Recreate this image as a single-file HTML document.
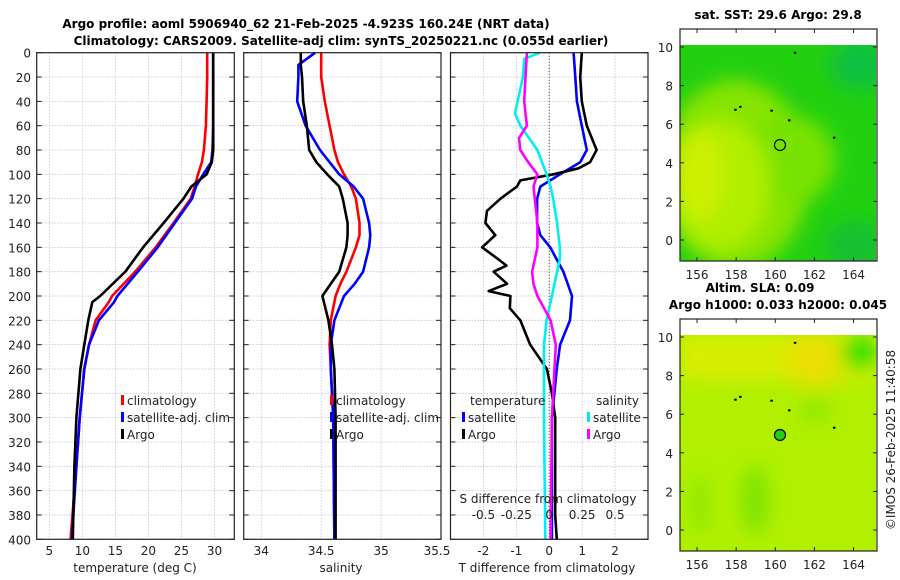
<!DOCTYPE html>
<html><head><meta charset="utf-8"><style>
body{margin:0;background:#fff}
svg{display:block;font-family:"DejaVu Sans","Liberation Sans",sans-serif}
.t{font-size:12px;fill:#222}
.b{font-size:12px;font-weight:bold;fill:#000}
</style></head><body>
<svg id="c" width="900" height="580" viewBox="0 0 900 580">
<defs>
<filter id="bl" x="-20%" y="-20%" width="140%" height="140%"><feGaussianBlur stdDeviation="9"/></filter>
<clipPath id="m1c"><rect x="680" y="45" width="196" height="216"/></clipPath>
<clipPath id="m2c"><rect x="680" y="335" width="196" height="216"/></clipPath>
</defs>
<text class="b" x="306" y="28" text-anchor="middle">Argo profile: aoml 5906940_62 21-Feb-2025 -4.923S 160.24E (NRT data)</text>
<text class="b" x="341" y="45" text-anchor="middle">Climatology: CARS2009. Satellite-adj clim: synTS_20250221.nc (0.055d earlier)</text>
<g id="g"></g>
</svg>
<script>
// ---- Data ----
const depthT = [0,20,40,60,80,90,100,110,120,140,160,180,200,205,220,240,260,300,340,400];
const tempClim = [28.9,28.9,28.8,28.7,28.4,28.1,27.5,27.0,26.4,23.8,21.1,18.0,14.5,14.0,12.0,11.0,10.3,9.6,9.1,8.2];
const tempSat = [29.8,29.8,29.8,29.8,29.7,29.5,28.3,27.2,26.6,24.0,21.4,18.4,15.3,14.8,12.5,11.0,10.3,9.6,9.1,8.4];
const tempArgo = [29.8,29.8,29.8,29.8,29.8,29.6,28.8,26.5,25.3,22.3,19.2,16.5,12.7,11.5,10.9,10.3,9.7,9.1,8.8,8.55];

const depthS = [0,10,20,40,60,80,90,100,110,120,140,150,160,180,190,200,220,240,260,300,400];
const salArgo = [34.33,34.33,34.34,34.35,34.38,34.40,34.46,34.55,34.65,34.68,34.72,34.72,34.71,34.65,34.58,34.51,34.56,34.59,34.61,34.62,34.62];
const salClim = [34.5,34.5,34.5,34.53,34.57,34.61,34.64,34.69,34.75,34.79,34.82,34.82,34.79,34.71,34.66,34.62,34.58,34.57,34.58,34.6,34.61];
const salSat = [34.45,34.31,34.31,34.3,34.37,34.49,34.57,34.65,34.77,34.85,34.9,34.91,34.9,34.85,34.78,34.69,34.61,34.58,34.58,34.6,34.61];

const depthDA = [0,20,40,60,80,90,95,100,105,110,120,130,140,150,160,170,175,180,190,196,200,210,220,240,260,280,300,340,380,400];
const tDiffArgo = [0.99,0.94,0.99,1.14,1.44,1.24,0.89,0.13,-0.88,-0.98,-1.48,-1.89,-1.94,-1.64,-2.04,-1.54,-1.3,-1.69,-1.28,-1.84,-1.18,-1.2,-0.88,-0.58,-0.07,0.08,0.18,0.18,0.18,0.23];
const depthDS = [0,20,40,60,80,90,100,110,120,140,150,160,180,200,220,240,260,300,400];
const tDiffSat = [0.74,0.79,0.84,0.99,1.14,0.94,0.33,-0.27,-0.37,-0.37,-0.27,0.03,0.43,0.69,0.63,0.33,0.23,0.08,0.08];
const depthSS = [0,5,20,40,50,60,80,100,110,120,140,160,170,180,200,220,240,260,300,400];
const sDiffSat = [-0.07,-0.19,-0.2,-0.24,-0.26,-0.22,-0.09,-0.02,0.01,0.03,0.06,0.08,0.08,0.06,0.02,-0.02,-0.04,-0.04,-0.04,-0.03];
const depthSA = [0,20,40,60,70,80,90,100,110,120,140,160,180,190,200,220,240,260,300,400];
const sDiffArgo = [-0.17,-0.18,-0.19,-0.17,-0.23,-0.22,-0.16,-0.09,-0.12,-0.11,-0.09,-0.09,-0.13,-0.12,-0.09,0.01,0.05,0.04,0.02,0.01];

const depthTicks = [0,20,40,60,80,100,120,140,160,180,200,220,240,260,280,300,320,340,360,380,400];
const tTicks = [5,10,15,20,25,30];
const sTicks = [34,34.5,35,35.5];
const tdTicks = [-2,-1,0,1,2];
const sdTicks = [-0.5,-0.25,0,0.25,0.5];
const lonTicks = [156,158,160,162,164];
const latTicks = [0,2,4,6,8,10];
const argoLon = 160.24, argoLat = -(-4.923);

// ---- helpers ----
const NS="http://www.w3.org/2000/svg";
const G=document.getElementById('g');
function el(tag,attrs,parent){const e=document.createElementNS(NS,tag);for(const k in attrs)e.setAttribute(k,attrs[k]);(parent||G).appendChild(e);return e;}
const Y0=52.7,Y1=539.3;
const yD=d=>Y0+(d/400)*(Y1-Y0);
function lin(d0,d1,r0,r1){return v=>r0+(v-d0)/(d1-d0)*(r1-r0);}

const panels=[
 {x0:36.7,x1:234.3,sc:lin(3.09,33.0,36.7,234.3),name:'temperature-panel'},
 {x0:243.7,x1:441,sc:lin(33.853,35.5,243.7,441),name:'salinity-panel'},
 {x0:450.5,x1:648,sc:lin(-3,3,450.5,648),name:'difference-panel'}
];
function frame(p,ticks){
  const g=el('g',{});
  
  
  depthTicks.forEach(d=>{
    const l=el('line',{x1:p.x0,x2:p.x1,y1:yD(d),y2:yD(d),stroke:'#b8c0e0','stroke-width':0.8,'stroke-dasharray':'1.5,1.5'},g);
    
    
    el('line',{x1:p.x0,x2:p.x0+5,y1:yD(d),y2:yD(d),stroke:'#222','stroke-width':1},g);
    el('line',{x1:p.x1-5,x2:p.x1,y1:yD(d),y2:yD(d),stroke:'#222','stroke-width':1},g);
  });
  ticks.forEach(v=>{const x=p.sc(v);if(x<p.x0||x>p.x1+0.5)return;
    const l=el('line',{x1:x,x2:x,y1:Y0,y2:Y1,stroke:'#c8c0d8','stroke-width':0.8,'stroke-dasharray':'1.5,1.5'},g);
    
    
  });
  return g;
}
function border(p,g){const r=el('rect',{x:p.x0,y:Y0,width:p.x1-p.x0,height:Y1-Y0,fill:'none',stroke:'#222','stroke-width':1.2},g);
  }
function line(p,g,xs,ds,col,name,w){
  const pts=xs.map((v,i)=>p.sc(v).toFixed(1)+','+yD(ds[i]).toFixed(1)).join(' ');
  const pl=el('polyline',{points:pts,fill:'none',stroke:col,'stroke-width':w||2.6,'stroke-linejoin':'round'},g);
  
  
}
function txt(s,x,y,anchor,cls,name,parent){const t=el('text',{x:x,y:y,'text-anchor':anchor||'start',class:cls||'t'},parent);t.textContent=s;
  return t;}
function legend(g,x,y,col,label){
  const r=el('rect',{x:x,y:y-10,width:3,height:10,fill:col},g);
  
  txt(label,x+6,y,'start','t','legend-entry',g);
}

// Panel 1
let p=panels[0],g=frame(p,tTicks);
line(p,g,tempClim,depthT,'#ff0000','temp-climatology-line');
line(p,g,tempSat,depthT,'#0000ff','temp-satellite-line');
line(p,g,tempArgo,depthT,'#000000','temp-argo-line');
border(p,g);
depthTicks.forEach(d=>txt(String(d),31,yD(d)+5,'end','t','depth-tick-label',g));
tTicks.forEach(v=>txt(String(v),p.sc(v),555,'middle','t','temp-tick-label',g));
txt('temperature (deg C)',135,572,'middle','t','temp-axis-title',g);
legend(g,121,405,'#ff0000','climatology');
legend(g,121,422,'#0000ff','satellite-adj. clim');
legend(g,121,439,'#000000','Argo');

// Panel 2
p=panels[1];g=frame(p,sTicks);
line(p,g,salClim,depthS,'#ff0000','sal-climatology-line');
line(p,g,salSat,depthS,'#0000ff','sal-satellite-line');
line(p,g,salArgo,depthS,'#000000','sal-argo-line');
border(p,g);
sTicks.forEach(v=>txt(String(v),Math.min(p.sc(v),437),555,'middle','t','sal-tick-label',g));
txt('salinity',341,572,'middle','t','sal-axis-title',g);
legend(g,330,405,'#ff0000','climatology');
legend(g,330,422,'#0000ff','satellite-adj. clim');
legend(g,330,439,'#000000','Argo');

// Panel 3
p=panels[2];g=frame(p,tdTicks);
el('line',{x1:p.sc(0),x2:p.sc(0),y1:Y0,y2:Y1,stroke:'#333','stroke-width':1,'stroke-dasharray':'1,2'},g);
line(p,g,tDiffSat,depthDS,'#0000ff','tdiff-satellite-line');
line(p,g,tDiffArgo,depthDA,'#000000','tdiff-argo-line');
const sd=v=>v*4;
line(p,g,sDiffSat.map(sd),depthSS,'#00f0f0','sdiff-satellite-line');
line(p,g,sDiffArgo.map(sd),depthSA,'#ff00ff','sdiff-argo-line');
border(p,g);
tdTicks.forEach(v=>txt(String(v),p.sc(v),555,'middle','t','tdiff-tick-label',g));
txt('T difference from climatology',547,572,'middle','t','tdiff-axis-title',g);
txt('S difference from climatology',548,503,'middle','t','sdiff-axis-title',g);
sdTicks.forEach(v=>txt(String(v),p.sc(v*4),519,'middle','t','sdiff-tick-label',g));
txt('temperature',470,405,'start','t','legend-temp-header',g);
txt('salinity',596,405,'start','t','legend-sal-header',g);
legend(g,462,422,'#0000ff','satellite');
legend(g,462,439,'#000000','Argo');
legend(g,587,422,'#00e8e8','satellite');
legend(g,587,439,'#ff00ff','Argo');

// Maps
const lonS=lin(155.13,165.2,680,877);
function map(top,latTop0,title,title2,kind){
  const yL=lin(0,10,latTop0+193,latTop0);
  const mg=el('g',{});
  
  
  if(title2){txt(title,760,292,'middle','b','sla-title',mg);txt(title2,778,309,'middle','b','sla-subtitle',mg);}
  else txt(title,778,19,'middle','b','sst-title',mg);
  const boxTop=top-16;
  el('rect',{x:680,y:boxTop,width:197,height:232,fill:'#fff',stroke:'none'},mg);
  const cg=el('g',{'clip-path':'url(#'+(kind==='sst'?'m1c':'m2c')+')'},mg);
  if(kind==='sst'){
    el('rect',{x:680,y:top,width:196,height:216,fill:'#22d010'},cg);
    const b=el('g',{filter:'url(#bl)'},cg);
    el('ellipse',{cx:735,cy:top+130,rx:75,ry:95,fill:'#86e400'},b);
    el('ellipse',{cx:790,cy:top+115,rx:45,ry:45,fill:'#78e200'},b);
    el('ellipse',{cx:720,cy:top+140,rx:50,ry:65,fill:'#b0ee00'},b);
    el('ellipse',{cx:700,cy:top+130,rx:25,ry:45,fill:'#ccf000'},b);
    el('ellipse',{cx:860,cy:top+20,rx:30,ry:25,fill:'#10c040'},b);
    el('ellipse',{cx:855,cy:top+200,rx:30,ry:25,fill:'#14c030'},b);
  } else {
    el('rect',{x:680,y:top,width:196,height:216,fill:'#b0f000'},cg);
    const b=el('g',{filter:'url(#bl)'},cg);
    el('rect',{x:680,y:top,width:196,height:45,fill:'#d8ee00'},b);
    el('ellipse',{cx:815,cy:top+25,rx:30,ry:28,fill:'#e8e000'},b);
    el('ellipse',{cx:860,cy:top+18,rx:18,ry:18,fill:'#30e000'},b);
    el('ellipse',{cx:755,cy:top+165,rx:14,ry:35,fill:'#80e400'},b);
    el('ellipse',{cx:815,cy:top+75,rx:15,ry:12,fill:'#90e800'},b);
    el('ellipse',{cx:700,cy:top+170,rx:10,ry:30,fill:'#90e800'},b);
  }
  el('rect',{x:680,y:boxTop,width:197,height:232,fill:'none',stroke:'#222','stroke-width':1.2},mg);
  lonTicks.forEach(v=>{const x=lonS(v);
    el('line',{x1:x,x2:x,y1:boxTop+232,y2:boxTop+228,stroke:'#222'},mg);
    el('line',{x1:x,x2:x,y1:boxTop,y2:boxTop+4,stroke:'#222'},mg);
    txt(String(v),x,boxTop+250,'middle','t','lon-tick-label',mg);});
  latTicks.forEach(v=>{const y=yL(v);
    el('line',{x1:680,x2:684,y1:y,y2:y,stroke:'#222'},mg);
    el('line',{x1:873,x2:877,y1:y,y2:y,stroke:'#222'},mg);
    txt(String(v),673,y+5,'end','t','lat-tick-label',mg);});
  // islands
  [[158.2,6.9],[161,9.7],[159.8,6.7],[160.7,6.2],[163,5.3],[157.95,6.75]].forEach(q=>el('rect',{x:lonS(q[0])-1,y:yL(q[1])-1,width:2.5,height:2,fill:'#000'},mg));
  const c=el('circle',{cx:lonS(argoLon),cy:yL(argoLat),r:5.5,fill:kind==='sst'?'none':'#22d010',stroke:'#000','stroke-width':1.2},mg);
  
  
}
map(45,47,'sat. SST: 29.6 Argo: 29.8',null,'sst');
map(335,337,'Altim. SLA: 0.09','Argo h1000: 0.033 h2000: 0.045','sla');
const cr=txt('©IMOS 26-Feb-2025 11:40:58',0,0,'middle','t','copyright-timestamp',G);
cr.setAttribute('transform','translate(895,440) rotate(-90)');
</script>
</body></html>
